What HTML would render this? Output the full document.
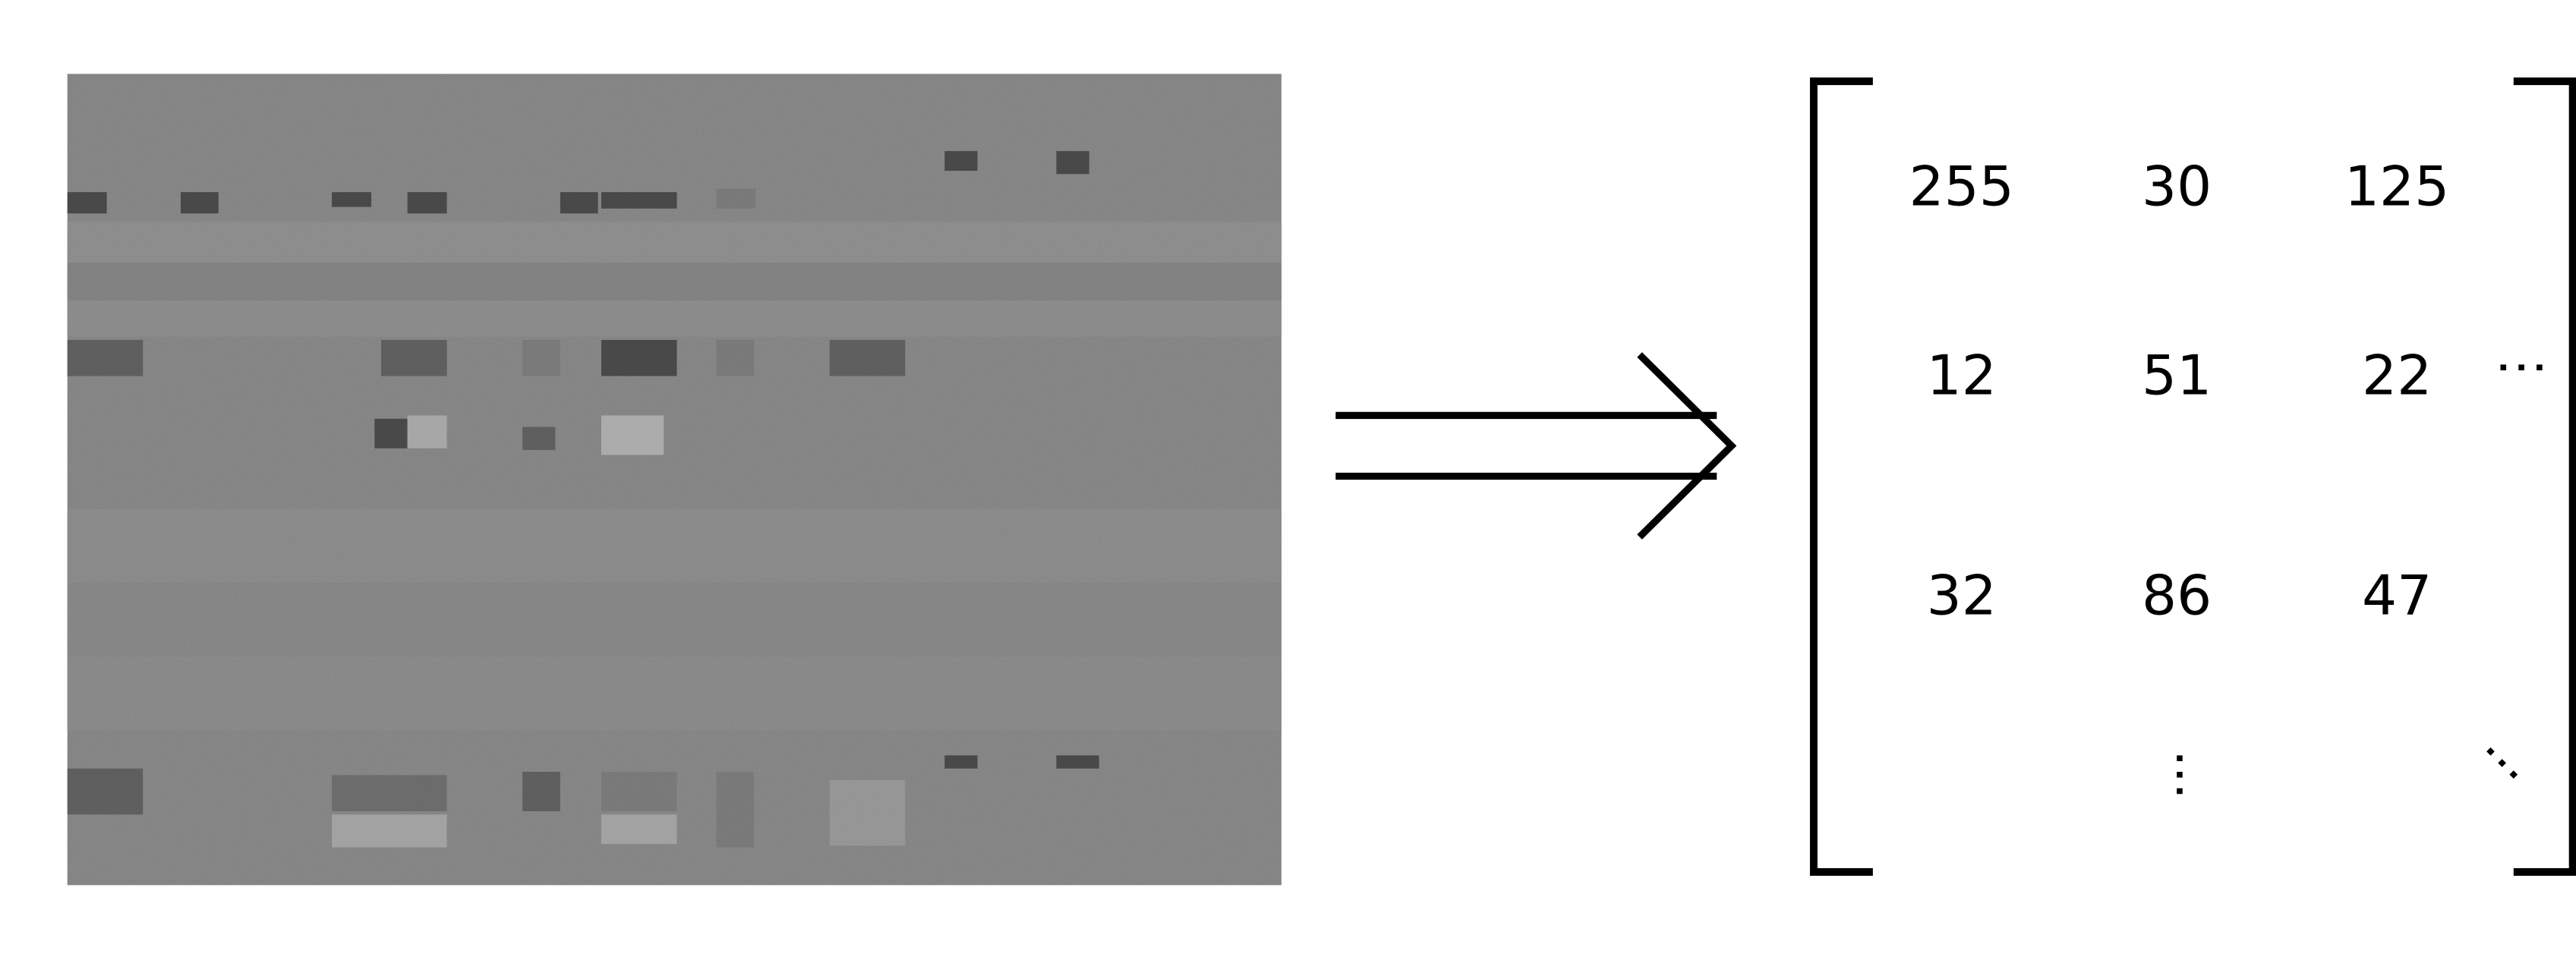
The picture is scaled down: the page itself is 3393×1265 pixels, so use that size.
<!DOCTYPE html>
<html><head><meta charset="utf-8"><style>
html,body{margin:0;padding:0;background:#fff;}
svg{display:block;}
text{font-family:"DejaVu Sans","Liberation Sans",sans-serif;fill:#000;}
</style></head><body>
<svg width="3393" height="1265" viewBox="0 0 1568 584.6" preserveAspectRatio="none">
<defs>
<filter id="noise" x="0" y="0" width="100%" height="100%">
<feTurbulence type="fractalNoise" baseFrequency="1.2" numOctaves="2" seed="3"/>
<feColorMatrix type="saturate" values="0"/>
</filter>
</defs>
<g>
<rect x="41" y="45" width="739" height="494" fill="#828282"/>
<rect x="41" y="135" width="739" height="25" fill="#8a8a8a"/>
<rect x="41" y="160" width="739" height="23" fill="#7e7e7e"/>
<rect x="41" y="183" width="739" height="22" fill="#888888"/>
<rect x="41" y="310" width="739" height="45" fill="#878787"/>
<rect x="41" y="355" width="739" height="45" fill="#838383"/>
<rect x="41" y="400" width="739" height="45" fill="#868686"/>
<rect x="41" y="45" width="739" height="494" filter="url(#noise)" opacity="0.12"/>
<g fill="#3a3a3a" opacity="0.8">
<rect x="41" y="117" width="24" height="13"/><rect x="110" y="117" width="23" height="13"/>
<rect x="202" y="117" width="24" height="9"/><rect x="248" y="117" width="24" height="13"/>
<rect x="341" y="117" width="23" height="13"/><rect x="366" y="117" width="46" height="10"/>
<rect x="436" y="115" width="24" height="12" fill="#777"/>
<rect x="575" y="92" width="20" height="12"/><rect x="643" y="92" width="20" height="14"/>
<rect x="41" y="207" width="46" height="22" fill="#555"/><rect x="232" y="207" width="40" height="22" fill="#555"/>
<rect x="318" y="207" width="23" height="22" fill="#777"/><rect x="366" y="207" width="46" height="22"/>
<rect x="436" y="207" width="23" height="22" fill="#777"/><rect x="505" y="207" width="46" height="22" fill="#555"/>
<rect x="228" y="255" width="20" height="18"/><rect x="318" y="260" width="20" height="14" fill="#555"/>
<rect x="366" y="253" width="38" height="24" fill="#b5b5b5"/><rect x="248" y="253" width="24" height="20" fill="#b0b0b0"/>
<rect x="41" y="468" width="46" height="28" fill="#555"/><rect x="202" y="472" width="70" height="22" fill="#666"/>
<rect x="202" y="496" width="70" height="20" fill="#aaa"/><rect x="318" y="470" width="23" height="24" fill="#555"/>
<rect x="366" y="470" width="46" height="24" fill="#777"/><rect x="366" y="496" width="46" height="18" fill="#aaa"/>
<rect x="436" y="470" width="23" height="46" fill="#777"/><rect x="505" y="475" width="46" height="40" fill="#9a9a9a"/>
<rect x="575" y="460" width="20" height="8"/><rect x="643" y="460" width="26" height="8"/>
</g>
</g>
<g stroke="#000" stroke-width="4.3" fill="none">
<line x1="813" y1="253" x2="1045" y2="253"/>
<line x1="813" y1="290" x2="1045" y2="290"/>
<polyline points="998,216 1054,271.5 998,327"/>
</g>
<g stroke="#000" stroke-width="4.6" fill="none">
<polyline points="1140,49.5 1104,49.5 1104,531 1140,531"/>
<polyline points="1530,49.5 1566,49.5 1566,531 1530,531"/>
</g>
<g font-size="33.5" text-anchor="middle">
<text x="1194" y="125">255</text><text x="1325" y="125">30</text><text x="1459" y="125">125</text>
<text x="1194" y="240">12</text><text x="1325" y="240">51</text><text x="1459" y="240">22</text>
<text x="1194" y="374">32</text><text x="1325" y="374">86</text><text x="1459" y="374">47</text>
</g>
<g fill="#000">
<rect x="1522" y="222" width="3.5" height="3.5"/><rect x="1533" y="222" width="3.5" height="3.5"/><rect x="1544" y="222" width="3.5" height="3.5"/>
<rect x="1325" y="460" width="3.5" height="3.5"/><rect x="1325" y="470" width="3.5" height="3.5"/><rect x="1325" y="480" width="3.5" height="3.5"/>
<rect x="1514" y="456" width="3.5" height="3.5" transform="rotate(45 1516 458)"/>
<rect x="1521" y="463" width="3.5" height="3.5" transform="rotate(45 1523 465)"/>
<rect x="1528" y="470" width="3.5" height="3.5" transform="rotate(45 1530 472)"/>
</g>
</svg>
</body></html>
